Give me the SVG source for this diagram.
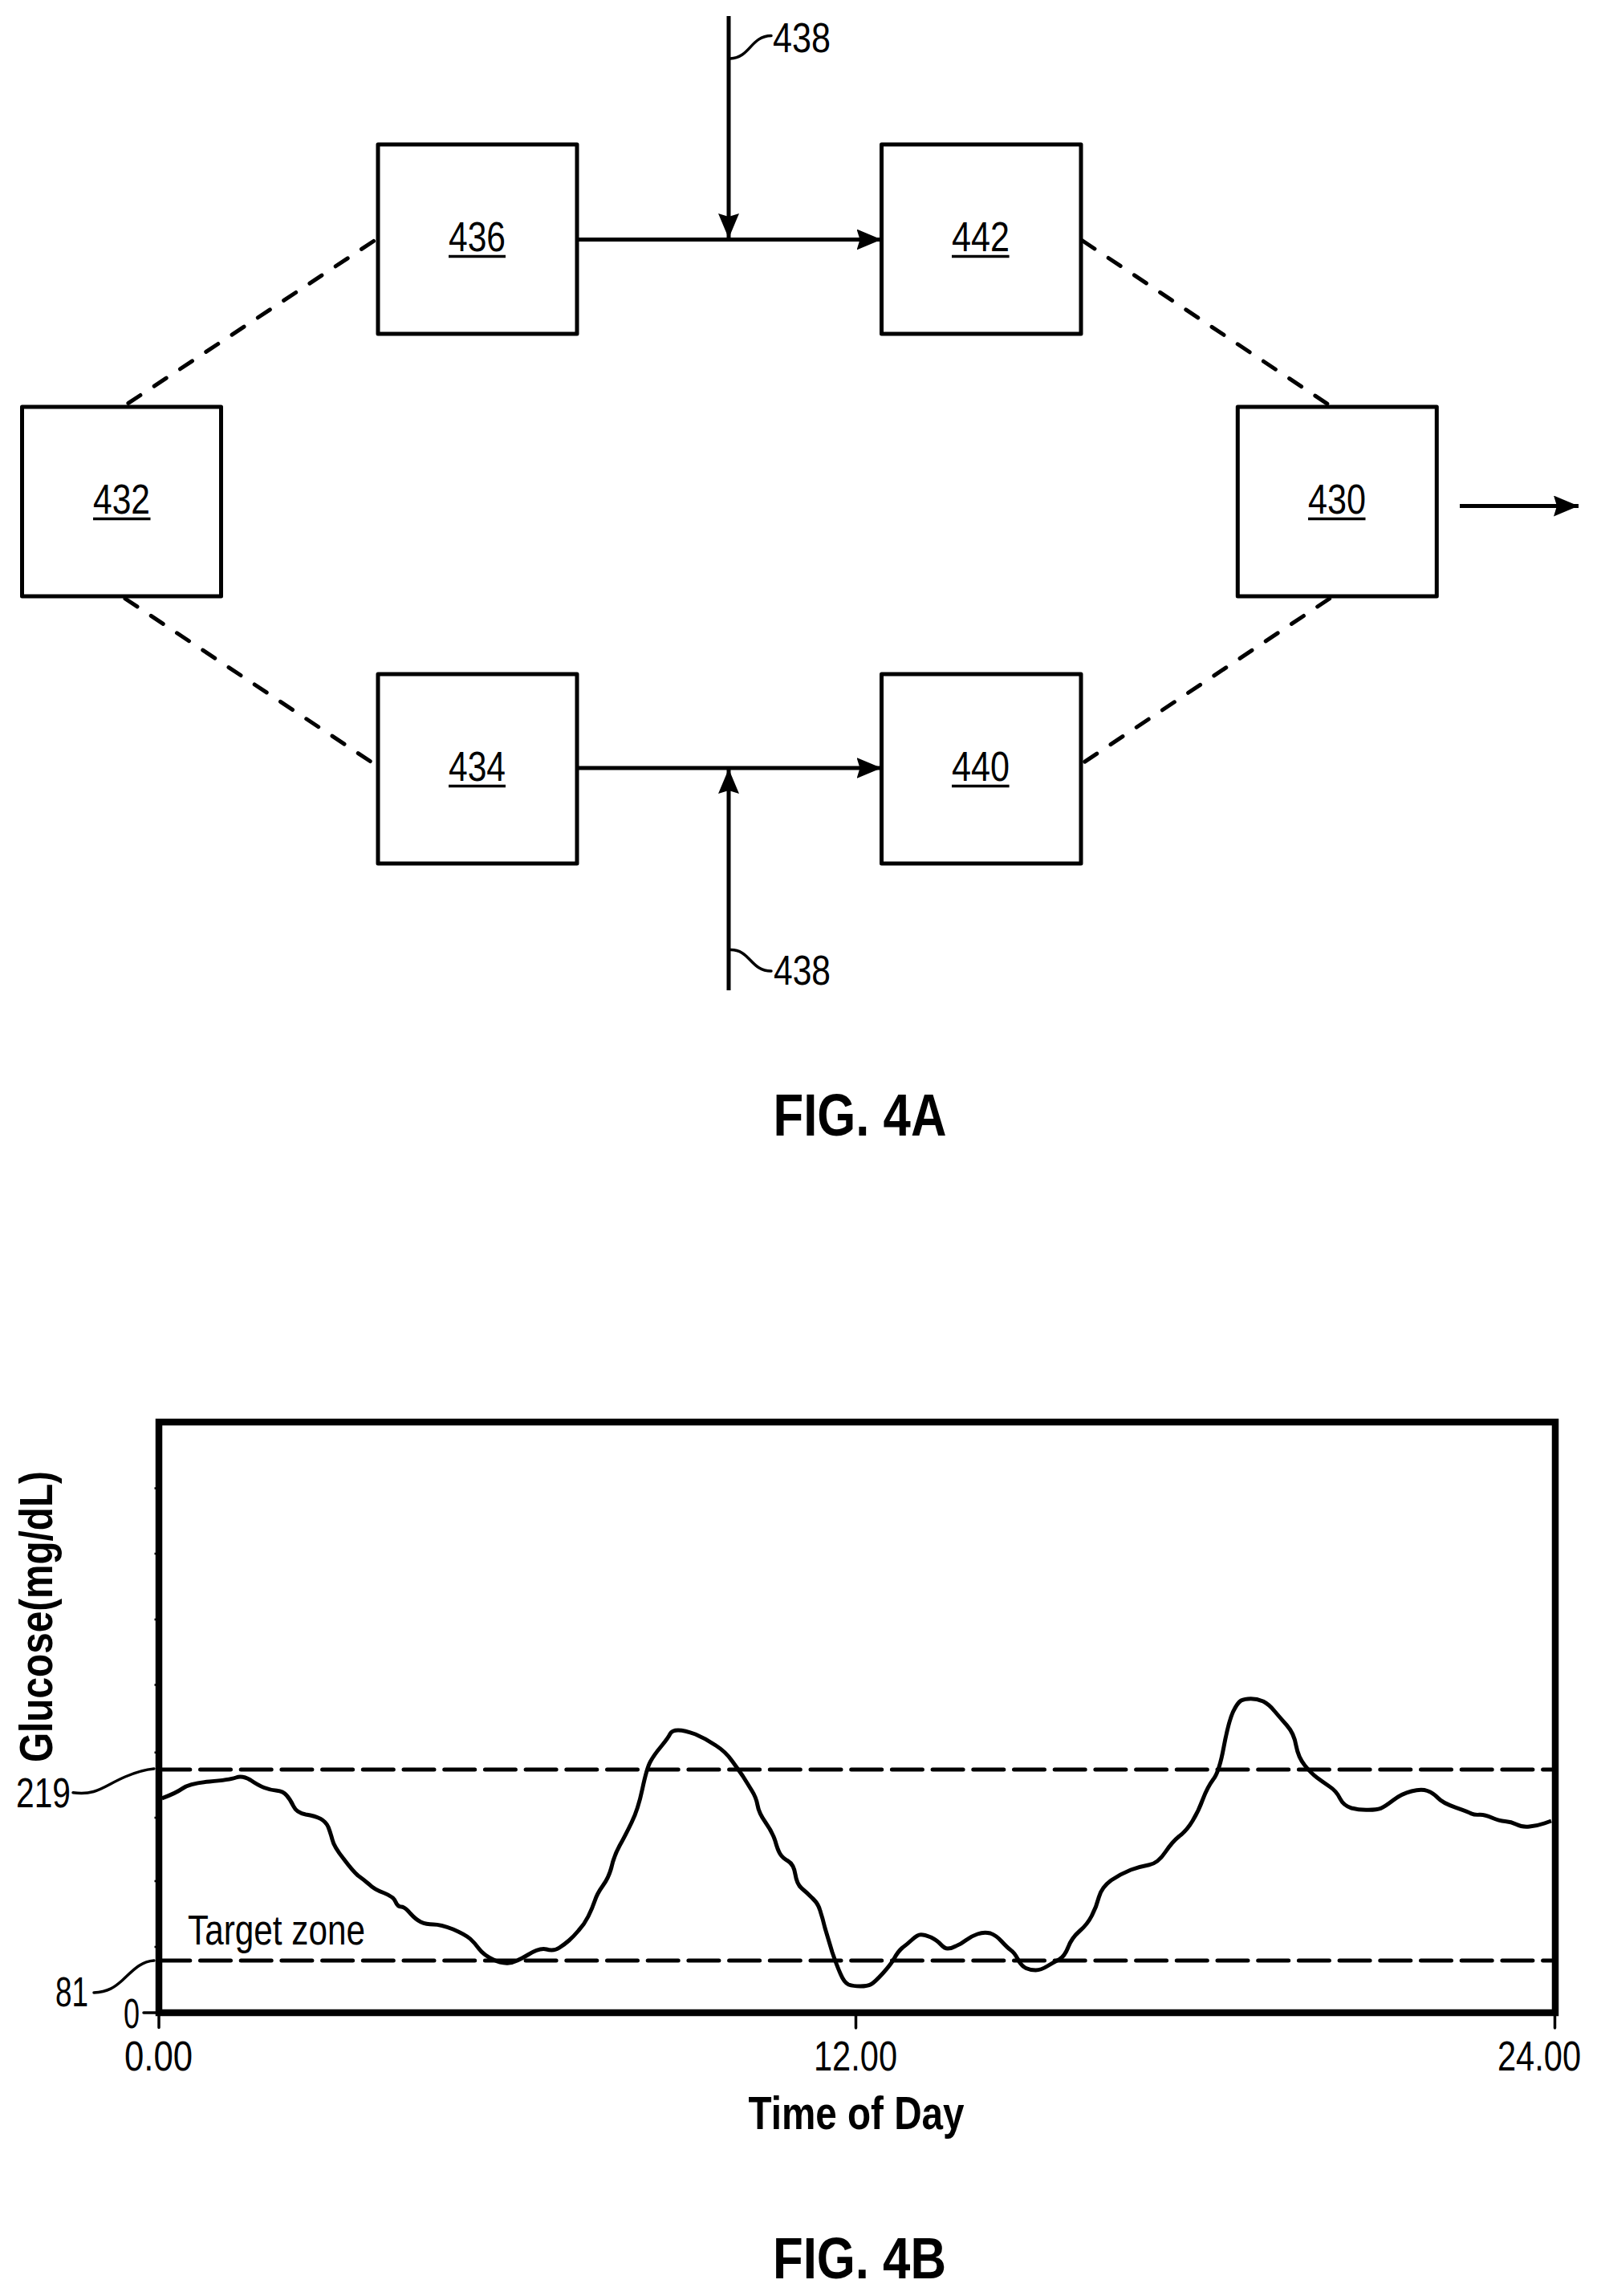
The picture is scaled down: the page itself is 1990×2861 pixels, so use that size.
<svg xmlns="http://www.w3.org/2000/svg" width="1990" height="2861" viewBox="0 0 1990 2861">
<style>
text{font-family:"Liberation Sans",Arial,sans-serif;fill:#000;font-size:51px}
.b{font-weight:bold}
.box{fill:#fff;stroke:#000;stroke-width:5;stroke-linejoin:round}
.ul{stroke:#000;stroke-width:3.5;fill:none}
.solid{stroke:#000;stroke-width:5;fill:none}
.thin{stroke:#000;stroke-width:3.5;fill:none;stroke-linecap:round}
.nub{stroke:#000;stroke-width:2.5;fill:none}
.dash{stroke:#000;stroke-width:5;fill:none;stroke-linecap:round;stroke-dasharray:18 20.7}
.hd{stroke:#000;stroke-width:5;fill:none;stroke-linecap:round;stroke-dasharray:38 12.7}
</style>
<defs>
<marker id="ah" markerUnits="userSpaceOnUse" markerWidth="31" markerHeight="26" refX="31" refY="13" orient="auto"><path d="M0 0L31 13L0 26L4 13Z" fill="#000"/></marker>
</defs>
<g id="connectors">
<path class="dash" d="M465.5 300.5L156 505"/>
<path class="dash" d="M156 746L465 951"/>
<path class="dash" d="M1349 300L1656.6 505"/>
<path class="dash" d="M1656.6 746L1349 951"/>
<path class="solid" d="M719 298.5H1098.5" marker-end="url(#ah)"/>
<path class="solid" d="M719 957H1098.5" marker-end="url(#ah)"/>
<path class="solid" d="M908 20V297" marker-end="url(#ah)"/>
<path class="solid" d="M908 1234V958" marker-end="url(#ah)"/>
<path class="solid" d="M1819 630.5H1967" marker-end="url(#ah)"/>
<path class="thin" d="M910 73C935 72 935 45 961 44.5"/>
<path class="thin" d="M910 1183.5C935 1183 935 1210 961 1210"/>
</g>
<g id="n436"><rect class="box" x="471" y="180" width="248" height="236"/><text x="559" y="313" textLength="71" lengthAdjust="spacingAndGlyphs">436</text><path class="ul" d="M559 319.5H630"/></g>
<g id="n442"><rect class="box" x="1098.5" y="180" width="248.5" height="236"/><text x="1186" y="313" textLength="72" lengthAdjust="spacingAndGlyphs">442</text><path class="ul" d="M1186 319.5H1257.6"/></g>
<g id="n432"><rect class="box" x="27.5" y="507" width="248" height="236"/><text x="116" y="640" textLength="71" lengthAdjust="spacingAndGlyphs">432</text><path class="ul" d="M116 646.5H187.5"/></g>
<g id="n430"><rect class="box" x="1542.3" y="507" width="248" height="236"/><text x="1630" y="640" textLength="72" lengthAdjust="spacingAndGlyphs">430</text><path class="ul" d="M1630 646.5H1701.5"/></g>
<g id="n434"><rect class="box" x="471" y="840" width="248" height="236"/><text x="559" y="973" textLength="71" lengthAdjust="spacingAndGlyphs">434</text><path class="ul" d="M559 979.5H630"/></g>
<g id="n440"><rect class="box" x="1098.5" y="840" width="248.5" height="236"/><text x="1186" y="973" textLength="72" lengthAdjust="spacingAndGlyphs">440</text><path class="ul" d="M1186 979.5H1257.6"/></g>
<text x="963" y="65" textLength="72" lengthAdjust="spacingAndGlyphs">438</text>
<text x="964" y="1227" textLength="71" lengthAdjust="spacingAndGlyphs">438</text>
<text class="b" x="963.5" y="1415" style="font-size:75px" textLength="216" lengthAdjust="spacingAndGlyphs">FIG. 4A</text>
<g id="chart">
<rect x="198" y="1772" width="1740" height="736" fill="none" stroke="#000" stroke-width="8.5"/>
<path class="thin" d="M179 2508H198M198 2508V2526.5M1066.5 2508V2527M1937.5 2508V2527"/>
<path class="nub" d="M192.5 1854.6H198M192.5 1936H198M192.5 2018H198M192.5 2099.5H198M192.5 2183.7H198M192.5 2265H198M192.5 2344H198M192.5 2426H198"/>
<path class="hd" d="M198.8 2205H1934"/>
<path class="hd" d="M198.8 2443H1934"/>
<path class="thin" d="M91 2233.7C120 2238 130 2225 156 2214C170 2208 180 2205 192 2204"/>
<path class="thin" d="M117 2483C135 2482 143 2476 152 2468C165 2456 175 2444 192 2443"/>
<path fill="none" stroke="#000" stroke-width="5" stroke-linejoin="round" d="M201.8 2240.8Q218.8 2234.7 227.7 2228.4Q236.6 2222 261 2220Q285.7 2217.9 294 2215Q302 2212 312 2218Q321.4 2224.5 329 2227.5Q337 2230.6 345 2231.3Q352.7 2232 357 2237Q361.6 2242 365.6 2250.5Q369.6 2259 381 2261Q392.9 2262.8 399.5 2266.4Q406 2270 409 2276.5Q411.6 2283 414 2292Q416 2301 428 2316Q439.7 2331.6 446 2337Q453 2342 460 2348Q466.5 2354.6 479 2359Q491 2363.8 493 2370Q495.5 2376 500 2376Q504.5 2376 511 2384Q518 2391.8 524.5 2395Q531 2398 540 2398Q549 2398 564.5 2404Q580 2410.7 586 2416Q591.5 2421 597 2428.5Q602.7 2436 614 2441.5Q625 2447 634 2446Q643 2445 657.6 2436Q672.3 2426.7 681 2429Q690 2431.7 697 2427Q703.6 2422.7 709 2418Q714.7 2413 721 2405.5Q728 2398 733 2388Q738 2378 741 2369Q743.8 2360 751 2350Q758.5 2340 762 2326.5Q765 2313 772 2300Q779.5 2286.7 787 2271Q795 2255 800.5 2229Q806 2203 810.5 2195Q815 2186.7 824 2176Q833 2165 835 2160.5Q837.5 2156 845 2156Q853 2156 866.5 2161Q880 2166.7 892 2175Q904.5 2183 912 2194Q920 2205 925.5 2213Q931 2221.7 936.7 2231Q942.4 2240 944 2249.5Q945.5 2259 954 2271Q962.5 2283 966 2294Q969 2305 972 2310Q975 2315 982 2319Q989 2323 991 2335.5Q993 2348 999 2353Q1005 2358 1012 2365Q1019.6 2371.7 1022 2381Q1025 2390 1028 2402.5Q1031.7 2415 1037 2432.5Q1043 2450 1047.5 2460Q1052 2470.7 1057.5 2473Q1063 2475 1072 2475Q1081 2475 1085.5 2472.5Q1090 2470 1100 2459Q1110 2448 1114.5 2440Q1119 2431.7 1124.5 2427Q1130 2423 1136.5 2417Q1143 2410.7 1147.5 2410.7Q1152 2410.7 1160 2414Q1168 2418 1172.4 2423Q1176.8 2428 1181 2428Q1185.7 2428 1191 2425Q1197 2422.7 1203.5 2417.7Q1210 2412.7 1218 2410Q1226 2407 1234 2409Q1241.5 2411.7 1248 2419Q1255 2426.7 1259.5 2430Q1264 2433 1268.4 2441.5Q1272.8 2450 1278.4 2452.5Q1284 2455 1290.5 2455Q1297 2455 1305 2450Q1313.2 2445 1320 2441.5Q1326.4 2438 1331 2426.5Q1335.2 2415 1345 2406.5Q1355 2398 1360.5 2387Q1366 2376.7 1369.3 2364Q1372.7 2351.7 1384.6 2343Q1396.6 2335 1409 2330Q1421 2325.7 1432 2323.7Q1443 2321.7 1452 2308Q1460.7 2295 1469.5 2288Q1478.3 2281.7 1486 2269Q1493.6 2256.7 1499 2241.7Q1504.7 2226.7 1512 2217Q1519.2 2208 1525 2176.5Q1531 2145 1536.5 2133Q1542 2121.7 1546.5 2119Q1551 2116.7 1558.6 2116.7Q1566.2 2116.7 1574 2120Q1581.7 2124 1588 2132Q1594.8 2140 1603.6 2150Q1612.5 2160 1615 2175Q1617.8 2190 1626 2200Q1634.2 2210 1641 2215Q1647.7 2220 1656.5 2226Q1665.3 2231.7 1669.7 2241Q1674.2 2250 1684 2253Q1694 2255.7 1705 2255.3Q1716 2255 1720.5 2253.3Q1725 2251.7 1736 2243.3Q1746.6 2235 1759 2232Q1771 2229 1778.5 2231.5Q1786 2234 1791.7 2240.3Q1797.4 2246.7 1814 2252.3Q1830.4 2258 1833.7 2260Q1837 2261.7 1843.5 2261.3Q1850 2261 1859 2265Q1868 2269 1875.5 2269.5Q1883 2270 1890 2273.5Q1896.5 2277 1906 2276Q1916 2275 1924.5 2272L1933 2269"/>
<text x="20" y="2251.5" textLength="68" lengthAdjust="spacingAndGlyphs">219</text>
<text x="69" y="2500" textLength="41" lengthAdjust="spacingAndGlyphs">81</text>
<text x="154" y="2526.5" textLength="20" lengthAdjust="spacingAndGlyphs">0</text>
<text x="234" y="2422.5" textLength="221" lengthAdjust="spacingAndGlyphs">Target zone</text>
<text class="b" transform="translate(64.7 2196) rotate(-90)" style="font-size:58px" textLength="363" lengthAdjust="spacingAndGlyphs">Glucose(mg/dL)</text>
<text x="155" y="2580" textLength="85" lengthAdjust="spacingAndGlyphs">0.00</text>
<text x="1014" y="2580" textLength="104" lengthAdjust="spacingAndGlyphs">12.00</text>
<text x="1866" y="2580" textLength="104" lengthAdjust="spacingAndGlyphs">24.00</text>
<text class="b" x="932.5" y="2653" style="font-size:58px" textLength="269" lengthAdjust="spacingAndGlyphs">Time of Day</text>
</g>
<text class="b" x="963" y="2839" style="font-size:73px" textLength="216" lengthAdjust="spacingAndGlyphs">FIG. 4B</text>
</svg>
